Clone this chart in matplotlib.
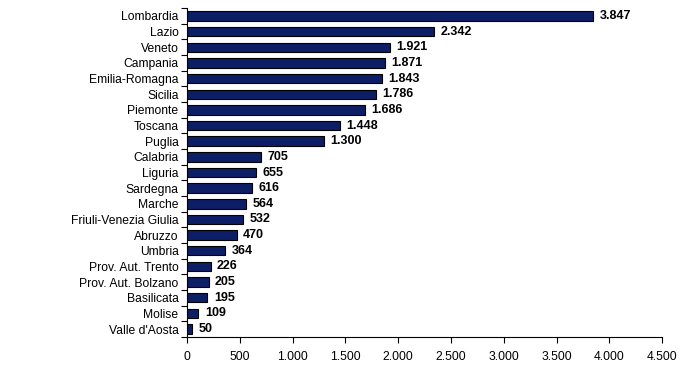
import matplotlib
matplotlib.use("Agg")
import matplotlib.pyplot as plt
import numpy as np
from matplotlib.ticker import FuncFormatter, FixedLocator

regions = ["Lombardia", "Lazio", "Veneto", "Campania", "Emilia-Romagna", "Sicilia",
           "Piemonte", "Toscana", "Puglia", "Calabria", "Liguria", "Sardegna",
           "Marche", "Friuli-Venezia Giulia", "Abruzzo", "Umbria", "Prov. Aut. Trento",
           "Prov. Aut. Bolzano", "Basilicata", "Molise", "Valle d'Aosta"]
values = [3847, 2342, 1921, 1871, 1843, 1786, 1686, 1448, 1300, 705, 655, 616,
          564, 532, 470, 364, 226, 205, 195, 109, 50]
xticks = [0, 500, 1000, 1500, 2000, 2500, 3000, 3500, 4000, 4500]

plt.rcParams['font.family'] = ['Liberation Sans', 'DejaVu Sans']

def it_fmt(v):
    return f"{int(round(v)):,}".replace(",", ".")

fig = plt.figure(figsize=(7, 3.69), dpi=100)
ax = fig.add_axes([0.267, 0.087, 0.679, 0.891])

y = np.arange(len(regions))
ax.barh(y, values, height=0.6, color="#0C1F66", edgecolor="black", linewidth=0.8)
for yi, v in zip(y, values):
    ax.text(v + 60, yi, it_fmt(v), va="center", ha="left", fontsize=9, fontweight="bold")

ax.set_ylim(len(regions) - 0.5, -0.5)
ax.set_xlim(0, 4500)
ax.set_yticks(y)
ax.set_yticklabels(regions, fontsize=8.7)
ax.tick_params(axis="y", which="major", length=0, pad=6)
ax.yaxis.set_minor_locator(FixedLocator(np.arange(-0.5, len(regions), 1.0)))
ax.tick_params(axis="y", which="minor", length=4, direction="out", width=0.8)

ax.set_xticks(xticks)
ax.xaxis.set_major_formatter(FuncFormatter(lambda v, p: it_fmt(v)))
ax.tick_params(axis="x", length=4, direction="out", width=0.8, labelsize=8.7, pad=6)

for s in ["top", "right"]:
    ax.spines[s].set_visible(False)
for s in ["left", "bottom"]:
    ax.spines[s].set_linewidth(0.8)

fig.savefig("out.png", dpi=100)
